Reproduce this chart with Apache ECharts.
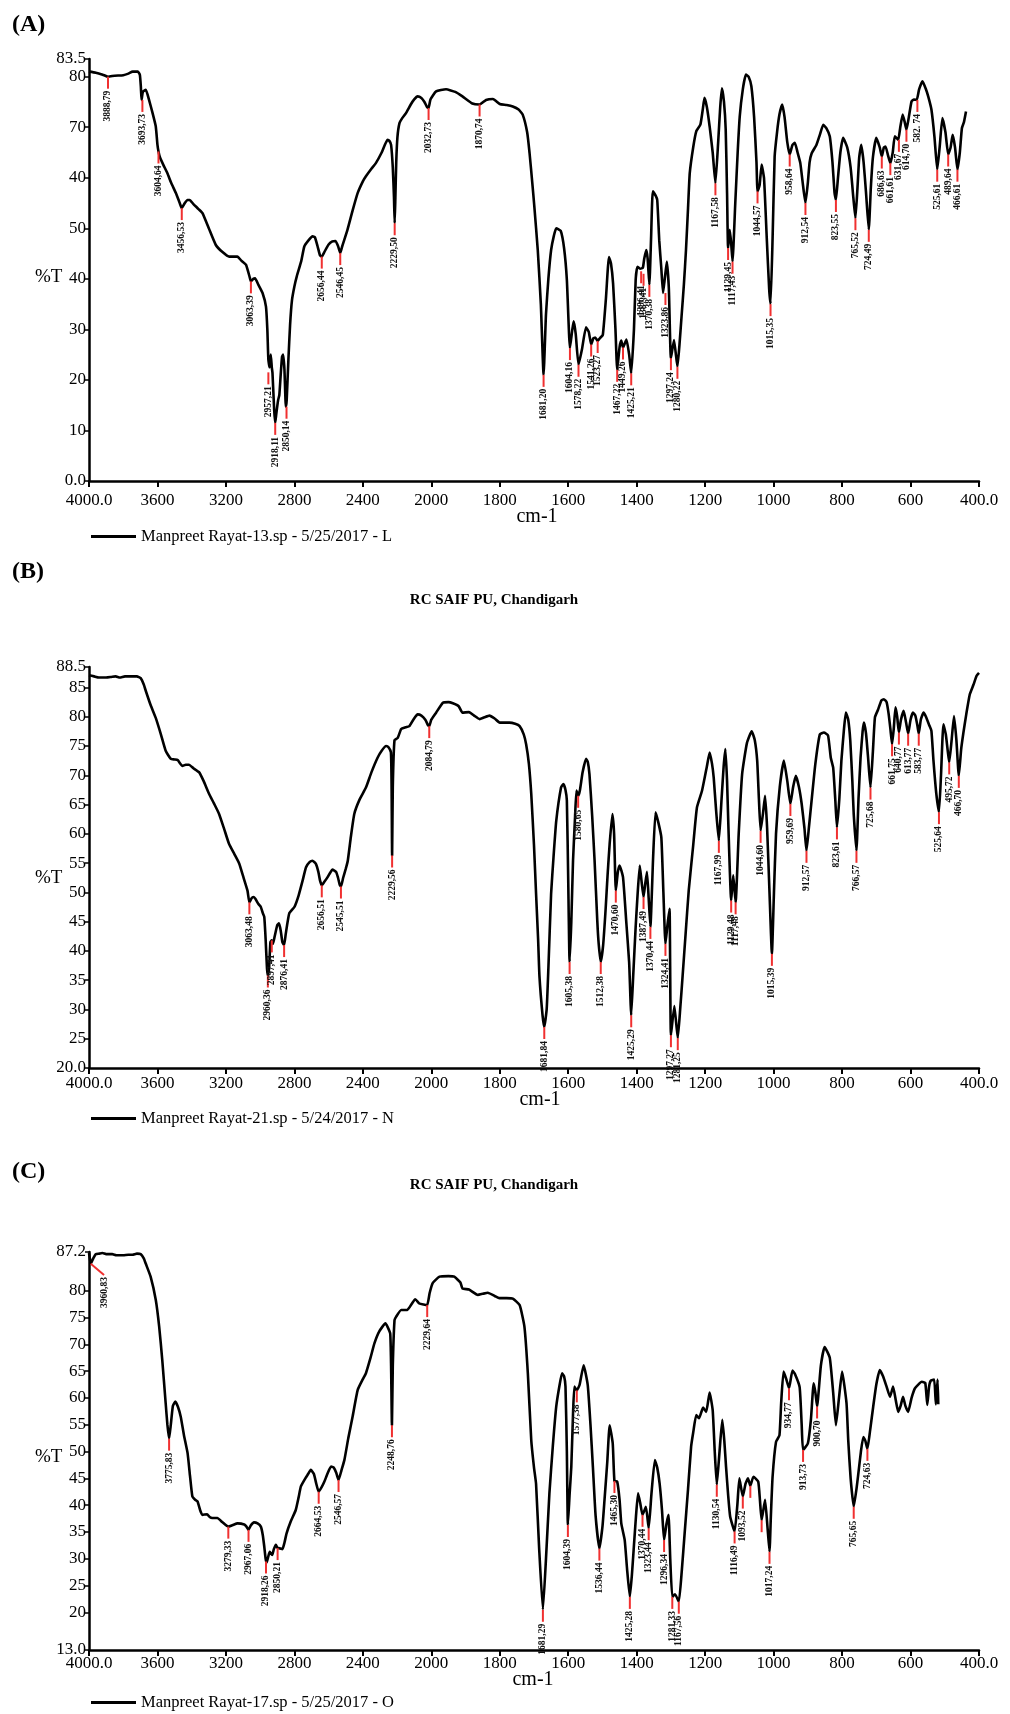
<!DOCTYPE html>
<html>
<head>
<meta charset="utf-8">
<script src="https://cdn.jsdelivr.net/npm/echarts@6/dist/echarts.min.js"></script>
<style>
  html, body { margin: 0; padding: 0; background: #fff; }
  #chart { width: 1010px; height: 1714px; }
</style>
</head>
<body>
<div id="chart"></div>
<script>
// IR spectra A, B, C  (wavenumber cm-1, %T)

var xTickLabels = ['4000.0','3600','3200','2800','2400','2000','1800','1600','1400','1200','1000','800','600','400.0'];

var yTicksA = [0,10,20,30,40,50,60,70,80,83.5];
var yLabelsA = ['0.0','10','20','30','40','50','40','70','80','83.5'];
var yTicksB = [20,25,30,35,40,45,50,55,60,65,70,75,80,85,88.5];
var yLabelsB = ['20.0','25','30','35','40','45','50','55','60','65','70','75','80','85','88.5'];
var yTicksC = [13,20,25,30,35,40,45,50,55,60,65,70,75,80,87.2];
var yLabelsC = ['13.0','20','25','30','35','40','45','50','55','60','65','70','75','80','87.2'];

var nameA = 'Manpreet Rayat-13.sp - 5/25/2017 - L';
var nameB = 'Manpreet Rayat-21.sp - 5/24/2017 - N';
var nameC = 'Manpreet Rayat-17.sp - 5/25/2017 - O';

var specA = [[4000,81.0],[3960,80.8],[3920,80.4],[3889,80.0],[3850,80.2],[3800,80.3],[3770,80.6],[3745,81.0],[3715,81.0],[3703,80.4],[3697,78],[3693,75.4],[3685,77.0],[3668,77.4],[3650,75.5],[3630,73.0],[3610,70.2],[3600,66.5],[3594,65.2],[3585,64.0],[3565,62.5],[3542,60.9],[3520,59.0],[3490,56.8],[3470,55.0],[3458,54.0],[3440,55.0],[3425,55.6],[3412,55.6],[3390,54.8],[3360,53.8],[3337,53.0],[3300,50.0],[3259,46.7],[3220,45.3],[3181,44.4],[3150,44.4],[3133,44.4],[3110,43.6],[3083,42.8],[3060,40.2],[3054,39.5],[3040,40.0],[3030,40.1],[3010,38.8],[2986,37.2],[2966,34.5],[2958,30],[2952,24.0],[2945,22.5],[2938,25.0],[2932,22.5],[2928,21.4],[2918,14],[2912,11.5],[2905,13.5],[2895,16],[2888,17],[2880,21],[2872,24.6],[2866,25.0],[2858,22],[2850,14.7],[2845,16],[2835,24],[2825,31],[2814,35.8],[2800,38.5],[2786,40.5],[2760,43.5],[2742,46.4],[2720,47.5],[2694,48.4],[2680,48.2],[2665,46.5],[2650,44.6],[2640,44.4],[2625,45.3],[2600,46.8],[2578,47.4],[2560,47.5],[2545,46.5],[2532,45.1],[2520,46.5],[2490,49.7],[2460,53.5],[2430,57.0],[2400,59.3],[2382,60.3],[2350,61.8],[2324,62.9],[2290,65.0],[2256,67.5],[2245,67.3],[2235,66.5],[2225,62],[2218,56],[2214,51.0],[2210,56],[2205,63],[2198,68],[2186,70.8],[2170,71.8],[2148,72.8],[2120,74.5],[2100,75.5],[2080,76.1],[2058,75.8],[2040,75.0],[2025,74.0],[2016,73.8],[2005,75.5],[1986,77.1],[1957,77.5],[1930,77.0],[1909,76.1],[1880,74.7],[1859,74.5],[1840,75.4],[1820,75.6],[1800,74.6],[1780,74.4],[1762,74.1],[1745,73.5],[1733,72.5],[1720,69],[1713,64.9],[1705,59],[1699,54.3],[1689,45.7],[1680,35],[1672,21.0],[1665,33],[1658,40],[1650,45.7],[1642,48.5],[1635,50.0],[1622,49.5],[1612,46],[1604,39.8],[1595,26.3],[1588,30],[1584,31.6],[1578,29],[1570,23.0],[1560,26],[1548,30.4],[1540,29.5],[1533,27.0],[1527,28.2],[1521,28.4],[1514,27.7],[1507,28.3],[1499,28.9],[1490,36],[1481,44.3],[1475,43],[1469,39.1],[1462,30],[1457,22.0],[1450,26.5],[1445,27.8],[1440,26.4],[1430,28.0],[1422,25],[1416,21.3],[1408,30],[1403,39.8],[1398,42.4],[1390,42.0],[1382,42.2],[1378,44],[1372,45.7],[1368,44],[1363,38.8],[1358,48],[1353,57.3],[1345,56.5],[1340,55.6],[1334,47.5],[1328,42],[1323,37.2],[1318,40],[1312,43.4],[1306,38],[1300,24.3],[1291,27.9],[1281,22.6],[1275,27],[1269,32.5],[1262,39],[1256,45.7],[1250,54],[1245,60.9],[1235,66],[1226,69.2],[1214,70.5],[1207,73.5],[1202,75.8],[1195,74],[1187,70.2],[1178,65],[1170,58.9],[1162,67],[1156,74],[1151,77.7],[1145,75],[1140,69.6],[1136,57],[1133,46.1],[1128,49.7],[1124,47],[1120,43.4],[1112,55],[1105,65],[1099,72.1],[1090,77.5],[1081,80.4],[1073,80],[1065,78.1],[1057,72],[1050,63],[1047,57.3],[1041,58.5],[1035,62.6],[1028,59.9],[1020,48],[1013,38],[1009,35.0],[1003,48],[997,64.2],[990,69],[983,72.5],[975,74.5],[968,72],[960,67],[953,64.6],[945,66.5],[938,66.9],[930,65],[922,62.9],[915,59],[907,55.0],[900,59],[895,63],[889,64.8],[875,66.5],[865,68.5],[855,70.5],[846,69.8],[836,68.2],[828,63],[822,57],[818,55.6],[812,60],[805,65],[797,67.9],[785,66],[775,62],[767,56],[761,52.0],[755,58],[750,64],[744,66.5],[737,63],[730,57],[722,49.7],[716,58],[710,64],[700,67.9],[690,66],[684,64.2],[678,66],[673,66.2],[666,64.5],[659,62.9],[652,65],[646,68.2],[636,67.5],[630,70],[623,72.5],[617,71],[612,69.5],[605,72],[597,75.1],[590,75.5],[582,75.4],[575,77.5],[565,79.1],[555,77.5],[548,76],[539,73.5],[530,68],[522,61.6],[515,66],[507,71.8],[498,69],[490,64.6],[483,66],[477,68.5],[470,66],[463,61.6],[456,65],[450,69.8],[444,71],[438,73.1]];

var specB = [[4000,87.1],[3970,86.9],[3942,86.7],[3900,86.7],[3870,86.8],[3844,86.9],[3820,86.7],[3790,86.9],[3747,86.9],[3720,86.9],[3698,86.6],[3680,85.5],[3668,84.4],[3640,82],[3610,79.8],[3580,77],[3552,74.2],[3522,72.8],[3500,72.7],[3482,72.6],[3454,71.6],[3435,71.8],[3416,71.8],[3390,71.2],[3356,70.5],[3330,69],[3298,66.8],[3270,65.2],[3240,63.4],[3210,60.8],[3182,58.3],[3150,56.5],[3122,54.9],[3100,52.8],[3074,50.3],[3063,48.3],[3050,49.0],[3040,49.2],[3028,48.9],[3010,48.0],[2996,47.5],[2985,46.5],[2976,45.8],[2968,42],[2960,37],[2955,35.8],[2948,37],[2940,41.5],[2932,41.8],[2925,41.2],[2915,42.5],[2900,44.4],[2890,44.7],[2880,43.5],[2870,41.5],[2860,41.0],[2850,43],[2830,46.4],[2800,47.5],[2775,49.5],[2752,52.0],[2732,54.3],[2710,55.2],[2694,55.4],[2675,54.9],[2660,53.5],[2650,52],[2640,51.2],[2625,51.8],[2606,52.6],[2590,53.4],[2578,53.9],[2556,53.5],[2545,52.5],[2535,51.3],[2528,51.0],[2515,52.5],[2500,54],[2488,55.4],[2470,59.5],[2450,63.4],[2420,65.8],[2382,67.9],[2350,70.5],[2314,73.0],[2290,74.2],[2264,75.0],[2250,74.8],[2236,73.9],[2232,68],[2229,56.3],[2225,68],[2215,76],[2196,76.4],[2176,77.9],[2150,78.2],[2128,78.4],[2105,79.5],[2080,80.4],[2058,80.2],[2035,79.5],[2020,78.6],[2012,78.4],[2000,79.5],[1986,80.7],[1966,82.4],[1950,82.5],[1937,82.3],[1920,81.8],[1909,80.7],[1890,80.8],[1875,80.2],[1859,79.6],[1845,79.9],[1830,80.2],[1815,79.7],[1800,79.0],[1772,79.0],[1755,78.8],[1742,78.4],[1730,77],[1723,75.3],[1715,72],[1708,66.8],[1700,58],[1694,49.8],[1688,42],[1684,35.6],[1675,29],[1670,27],[1663,30],[1658,37],[1650,49.8],[1643,56],[1635,62.2],[1621,67.9],[1614,68.5],[1608,67.5],[1604,65.7],[1600,52],[1596,38.1],[1591,45],[1586,55.4],[1580,63],[1576,67.4],[1571,66.5],[1566,67.4],[1558,70.5],[1548,72.8],[1543,72.3],[1538,70.2],[1530,63],[1523,55.4],[1515,45],[1511,41.2],[1505,38.1],[1498,41],[1491,46.9],[1485,53],[1479,58.3],[1471,63.4],[1466,60],[1461,50.3],[1455,53.5],[1450,54.6],[1440,52.6],[1430,44.6],[1422,38],[1416,29.0],[1410,36],[1403,44.1],[1397,50],[1391,54.6],[1386,52],[1380,49.2],[1375,51.5],[1370,53.5],[1365,49],[1360,44.1],[1352,56],[1345,63.7],[1337,62],[1328,59.4],[1322,50],[1316,41.2],[1310,44.5],[1304,47.2],[1300,25.6],[1290,30.6],[1280,25.1],[1273,30],[1266,35.6],[1257,43],[1248,50.3],[1235,58],[1224,64.5],[1209,67.4],[1195,71.5],[1187,73.9],[1180,72],[1175,69.6],[1168,64],[1160,58.8],[1152,66],[1146,71.5],[1141,74.5],[1136,69],[1132,61.1],[1124,48.6],[1118,52.9],[1111,48.3],[1102,60],[1092,70.2],[1078,75.5],[1064,77.5],[1055,76],[1048,72.5],[1043,66],[1038,60.5],[1031,63.5],[1025,66.5],[1019,61],[1012,50],[1005,39.5],[999,50],[993,60.0],[982,68],[970,72.5],[960,69],[951,65.1],[943,68],[935,69.9],[926,68],[918,65.1],[910,61],[904,57.1],[897,61],[889,65.7],[878,72],[865,77.0],[853,77.3],[841,76.8],[833,73],[826,71.3],[820,66],[815,61.1],[808,66],[802,72.5],[795,77.5],[789,80.7],[782,79.5],[776,75.9],[770,69],[766,63.4],[758,57.1],[752,66],[746,73],[740,77.5],[736,79.0],[730,77.1],[724,73],[717,67.9],[710,74],[704,79.9],[695,81.2],[685,82.8],[678,83.0],[670,82.5],[664,80.5],[659,78],[654,75.3],[649,78],[644,81.6],[639,80],[634,77.3],[628,79.5],[620,81.0],[613,79],[607,77.1],[600,79.5],[593,80.7],[586,80.2],[580,78.5],[576,77.1],[570,79.5],[562,80.7],[555,80],[545,78.5],[539,77.6],[533,72.5],[525,67],[517,63.7],[511,70],[504,78.7],[497,77],[491,74],[487,72.2],[480,76],[473,80.1],[466,76],[459,69.9],[452,74.5],[446,77.1],[437,80.5],[427,83.8],[416,85.5],[407,87.0],[400,87.5]];

var specC = [[4000,87.0],[3995,86],[3990,85.0],[3975,86],[3961,86.8],[3940,86.9],[3922,87.0],[3900,86.8],[3864,86.8],[3840,86.6],[3800,86.6],[3770,86.7],[3746,86.7],[3720,86.9],[3698,86.8],[3680,86],[3668,85.0],[3640,82.6],[3610,78.3],[3590,73.3],[3572,67.1],[3552,59.0],[3542,55],[3532,52.4],[3522,55],[3510,58.5],[3496,59.3],[3480,58.3],[3464,56.5],[3445,53],[3424,49.7],[3410,45.5],[3396,41.6],[3380,41.0],[3366,40.7],[3350,39],[3338,38.2],[3310,38.3],[3295,37.8],[3280,37.6],[3250,37.6],[3220,36.8],[3186,36.0],[3160,36.3],[3132,36.6],[3093,36.4],[3080,36.0],[3068,35.4],[3055,36.2],[3036,36.8],[3015,36.6],[2996,36.0],[2985,34.5],[2976,32.3],[2968,30],[2962,29.3],[2952,30.5],[2944,31.3],[2930,30.7],[2920,31.8],[2908,32.6],[2898,32.0],[2890,32.0],[2870,31.8],[2858,33],[2846,34.7],[2822,36.9],[2792,39.1],[2775,41.5],[2762,43.5],[2736,45.0],[2720,45.8],[2704,46.6],[2686,45.8],[2672,44],[2658,42.5],[2640,43.4],[2626,44.3],[2605,46],[2586,47.2],[2570,47.0],[2555,46],[2542,44.7],[2525,46.5],[2508,48.4],[2485,52.5],[2460,56.5],[2430,61.5],[2400,63.5],[2382,64.6],[2355,67.5],[2332,70.2],[2304,72.4],[2268,73.9],[2255,73.2],[2240,72.0],[2235,66],[2230,54.9],[2225,66],[2215,74.5],[2206,75.1],[2176,76.4],[2140,76.4],[2115,77.5],[2094,78.4],[2070,77.6],[2045,77.4],[2024,77.3],[2010,79.5],[1996,81.4],[1976,82.6],[1950,82.7],[1933,82.6],[1915,81.5],[1909,80.4],[1890,80.2],[1864,79.2],[1850,79.4],[1835,79.6],[1815,79.0],[1801,78.6],[1780,78.6],[1762,78.5],[1742,77.3],[1728,73.3],[1718,64.6],[1708,52.1],[1700,47],[1694,44.0],[1685,32],[1674,20.5],[1665,30],[1655,42.2],[1645,51],[1635,58.4],[1625,62.5],[1618,64.6],[1612,64],[1608,62.1],[1604,50],[1601,36.3],[1596,42],[1591,47.2],[1586,57],[1582,62.1],[1575,61.4],[1567,62.4],[1555,66.1],[1543,62.4],[1535,55],[1528,47.2],[1520,38],[1509,31.9],[1500,36],[1494,41.0],[1486,48],[1479,54.9],[1470,51.5],[1465,44.5],[1457,44.4],[1450,41],[1445,36.6],[1435,33.5],[1428,28],[1420,22.9],[1414,27],[1409,31.6],[1402,38],[1396,42.2],[1390,40.5],[1383,38.2],[1373,39.7],[1365,35.7],[1357,42],[1347,48.4],[1340,47],[1333,44.0],[1326,39],[1320,33.5],[1313,36.5],[1307,38.2],[1302,30],[1296,22.9],[1288,23.4],[1277,22.0],[1268,28],[1260,34.7],[1250,43],[1241,50.9],[1235,53.5],[1226,56.8],[1218,56.2],[1206,58.2],[1197,57.4],[1187,61.0],[1178,57.7],[1172,50],[1166,43.8],[1158,50],[1150,55.9],[1144,52],[1139,47.2],[1133,42],[1127,37.9],[1114,35.1],[1106,40],[1100,45.0],[1090,41.6],[1082,44],[1075,45.0],[1068,43.6],[1059,45.3],[1045,44.4],[1040,41],[1035,37.2],[1025,41.0],[1018,36],[1012,31.3],[1008,38],[1003,45.3],[993,51.8],[983,53.0],[978,59.0],[971,64.9],[963,63.5],[955,61.8],[945,65.1],[938,64.5],[924,62],[918,55],[914,50.3],[900,51.5],[891,56],[883,62.7],[878,61],[873,58.4],[862,66],[851,69.5],[836,67.5],[826,61],[818,54.9],[809,60],[800,64.9],[787,59.0],[782,52.1],[775,45],[766,39.7],[758,43],[753,45.6],[745,50],[738,52.7],[732,52],[726,50.5],[718,54],[709,58.4],[700,62.5],[690,65.2],[680,64],[670,62.1],[660,60.2],[651,62.1],[643,59.5],[636,57.4],[629,58.5],[622,60.2],[615,58.5],[607,57.4],[597,60],[587,61.8],[567,63.0],[557,62.8],[551,58.7],[546,62],[541,63.2],[531,63.4],[526,58.8],[521,63.4],[519,58.8]];

// peak marks: [position cm-1, %T at top of red mark, printed text, (optional end point)]
var peaksA = [[3889,80.0,'3888,79'],[3688,75.4,'3693,73'],[3594,65.2,'3604,64'],[3458,54.0,'3456,53'],[3054,39.5,'3063,39'],[2952,21.5,'2957,21'],[2912,11.5,'2918,11'],[2846,14.7,'2850,14'],[2640,44.4,'2656,44'],[2532,45.1,'2546,45'],[2214,51.0,'2229,50'],[2016,73.8,'2032,73'],[1859,74.5,'1870,74'],[1672,21.0,'1681,20'],[1595,26.3,'1604,16'],[1570,23.0,'1578,22'],[1533,27.0,'1541,26'],[1514,27.7,'1523,27'],[1457,22.0,'1467,22'],[1440,26.4,'1449,26'],[1416,21.3,'1425,21'],[1387,41.5,'1396,41'],[1380,41.0,'1387,41'],[1363,38.8,'1370,38'],[1316,37.2,'1323,86'],[1300,24.3,'1297,24'],[1281,22.6,'1280,22'],[1170,58.9,'1167,58'],[1133,46.1,'1129,45'],[1120,43.4,'1117,43'],[1047,57.3,'1044,57'],[1009,35.0,'1015,35'],[953,64.6,'958,64'],[907,55.0,'912,54'],[818,55.6,'823,55'],[761,52.0,'765,52'],[722,49.7,'724,49'],[684,64.2,'686,63'],[659,62.9,'661,61'],[634,67.5,'631,67'],[612,69.5,'614,70'],[580,75.4,'582. 74'],[522,61.6,'525,61'],[490,64.6,'489,64'],[463,61.6,'466,61']];

var peaksB = [[3063,48.3,'3063,48'],[2955,35.8,'2960,36'],[2932,41.8,'2897,41'],[2860,41.0,'2876,41'],[2640,51.2,'2656,51'],[2528,51.0,'2545,51'],[2229,56.3,'2229,56'],[2012,78.4,'2084,79'],[1670,27.0,'1681,84'],[1596,38.1,'1605,38'],[1571,66.5,'1580,65'],[1505,38.1,'1512,38'],[1461,50.3,'1470,60'],[1416,29.0,'1425,29'],[1380,49.2,'1387,49'],[1360,44.1,'1370,44'],[1316,41.2,'1324,41'],[1300,25.6,'1297,27'],[1280,25.1,'1281,25'],[1160,58.8,'1167,99'],[1124,48.6,'1129,48'],[1111,48.3,'1117,48'],[1038,60.5,'1044,60'],[1005,39.5,'1015,39'],[951,65.1,'959,69'],[904,57.1,'912,57'],[815,61.1,'823,61'],[758,57.1,'766,57'],[717,67.9,'725,68'],[654,75.3,'661,75'],[634,77.3,'640,77'],[607,77.1,'613,77'],[576,77.1,'583,77'],[517,63.7,'525,64'],[487,72.2,'495,72'],[459,69.9,'466,70']];

var peaksC = [[3990,85.0,'3960,83',3912,82.9],[3532,52.4,'3775,83'],[3186,36.0,'3279,33'],[3068,35.4,'2967,06'],[2966,29.5,'2918,26'],[2898,32.0,'2850,21'],[2658,42.5,'2664,53'],[2542,44.7,'2546,57'],[2230,54.9,'2248,76'],[2024,77.3,'2229,64'],[1674,20.5,'1681,29'],[1601,36.3,'1604,39'],[1575,61.4,'1577,38'],[1509,31.9,'1536,44'],[1465,44.5,'1465,30'],[1420,22.9,'1425,28'],[1383,38.2,'1370,44'],[1365,35.7,'1323,44'],[1320,33.5,'1296,34'],[1296,22.9,'1281,33'],[1277,22.0,'1167,56'],[1166,43.8,'1130,54'],[1114,35.1,'1116,49'],[1090,41.6,'1093,52'],[1068,43.6,''],[1035,37.2,''],[1012,31.3,'1017,24'],[955,61.8,'934,77'],[914,50.3,'913,73'],[873,58.4,'900,70'],[766,39.7,'765,65'],[726,50.5,'724,63']];

// x axis: 4000-2000 at half scale, 2000-400 at full scale
function toU(w) { return w >= 2000 ? (4000 - w) / 2 : 1000 + (2000 - w); }
var xTickU = xTickLabels.map(function (t, i) { return i * 200; });

var serif = '"Liberation Serif", "Times New Roman", serif';

function mapLabels(ticks, labels) {
    return function (v) {
        for (var i = 0; i < ticks.length; i++) {
            if (Math.abs(ticks[i] - v) < 1e-6) return labels[i];
        }
        return '';
    };
}

function makeX(idx, margin) {
    return {
        type: 'value', gridIndex: idx, min: 0, max: 2600,
        axisLine: { lineStyle: { color: '#000', width: 2.5 } },
        axisTick: { customValues: xTickU, length: 6, lineStyle: { color: '#000', width: 2 } },
        axisLabel: {
            customValues: xTickU, margin: margin, color: '#000', fontFamily: serif, fontSize: 17,
            formatter: function (v) { return xTickLabels[Math.round(v / 200)]; }
        },
        splitLine: { show: false }
    };
}

function makeY(idx, ticks, labels, min, max) {
    return {
        type: 'value', gridIndex: idx, min: min, max: max,
        axisLine: { show: true, lineStyle: { color: '#000', width: 2.5 } },
        axisTick: { show: true, customValues: ticks, length: 4, lineStyle: { color: '#000', width: 1.5 } },
        axisLabel: {
            customValues: ticks, margin: 3, color: '#000', fontFamily: serif, fontSize: 17,
            formatter: mapLabels(ticks, labels)
        },
        splitLine: { show: false }
    };
}

function specSeries(name, spec, idx) {
    return {
        name: name, type: 'line', xAxisIndex: idx, yAxisIndex: idx,
        data: spec.map(function (p) { return [toU(p[0]), p[1]]; }),
        showSymbol: false, smooth: 0.15, silent: true,
        lineStyle: { color: '#000', width: 2.6 }, itemStyle: { color: '#000' }
    };
}

function peakSeries(list, idx) {
    return {
        type: 'custom', xAxisIndex: idx, yAxisIndex: idx, z: 5, silent: true,
        data: list.map(function (p) { return [toU(p[0]), p[1]]; }),
        renderItem: function (params, api) {
            var item = list[params.dataIndex];
            var a = api.coord([api.value(0), api.value(1)]);
            var b = item.length > 3 ? api.coord([toU(item[3]), item[4]]) : [a[0], a[1] + 12];
            return {
                type: 'group',
                children: [
                    { type: 'line', shape: { x1: a[0], y1: a[1], x2: b[0], y2: b[1] },
                      style: { stroke: '#f03030', lineWidth: 2 } },
                    { type: 'text', x: b[0], y: b[1] + 2, rotation: Math.PI / 2,
                      style: { text: item[2], font: 'bold 9.5px ' + serif, fill: '#111',
                               align: 'right', verticalAlign: 'middle' } }
                ]
            };
        }
    };
}

function txt(s, x, y, font, align) {
    return { type: 'text', x: x, y: y,
             style: { text: s, font: font, fill: '#000', align: align || 'left', verticalAlign: 'middle' } };
}

function legendFor(name, top) {
    return {
        data: [name], left: 91, top: top, padding: 0, icon: 'rect',
        itemWidth: 45, itemHeight: 3, itemGap: 8, selectedMode: false,
        textStyle: { color: '#000', fontFamily: serif, fontSize: 16.5 }
    };
}

var chart = echarts.init(document.getElementById('chart'));
chart.setOption({
    backgroundColor: '#fff',
    animation: false,
    grid: [
        { left: 89, width: 890, top: 59, height: 422 },
        { left: 89, width: 890, top: 667, height: 401 },
        { left: 89, width: 890, top: 1252, height: 398 }
    ],
    xAxis: [makeX(0, 11), makeX(1, 7), makeX(2, 5)],
    yAxis: [
        makeY(0, yTicksA, yLabelsA, 0, 83.5),
        makeY(1, yTicksB, yLabelsB, 20, 88.5),
        makeY(2, yTicksC, yLabelsC, 13, 87.2)
    ],
    legend: [legendFor(nameA, 528), legendFor(nameB, 1110), legendFor(nameC, 1694)],
    graphic: [
        txt('(A)', 12, 25, 'bold 24px ' + serif),
        txt('%T', 35, 277, '19px ' + serif),
        txt('cm-1', 537, 517, '20px ' + serif, 'center'),
        txt('(B)', 12, 572, 'bold 24px ' + serif),
        txt('RC SAIF PU, Chandigarh', 494, 600, 'bold 15px ' + serif, 'center'),
        txt('%T', 35, 878, '19px ' + serif),
        txt('cm-1', 540, 1100, '20px ' + serif, 'center'),
        txt('(C)', 12, 1172, 'bold 24px ' + serif),
        txt('RC SAIF PU, Chandigarh', 494, 1185, 'bold 15px ' + serif, 'center'),
        txt('%T', 35, 1457, '19px ' + serif),
        txt('cm-1', 533, 1680, '20px ' + serif, 'center')
    ],
    series: [
        specSeries(nameA, specA, 0),
        specSeries(nameB, specB, 1),
        specSeries(nameC, specC, 2),
        peakSeries(peaksA, 0),
        peakSeries(peaksB, 1),
        peakSeries(peaksC, 2)
    ]
});
</script>
</body>
</html>
